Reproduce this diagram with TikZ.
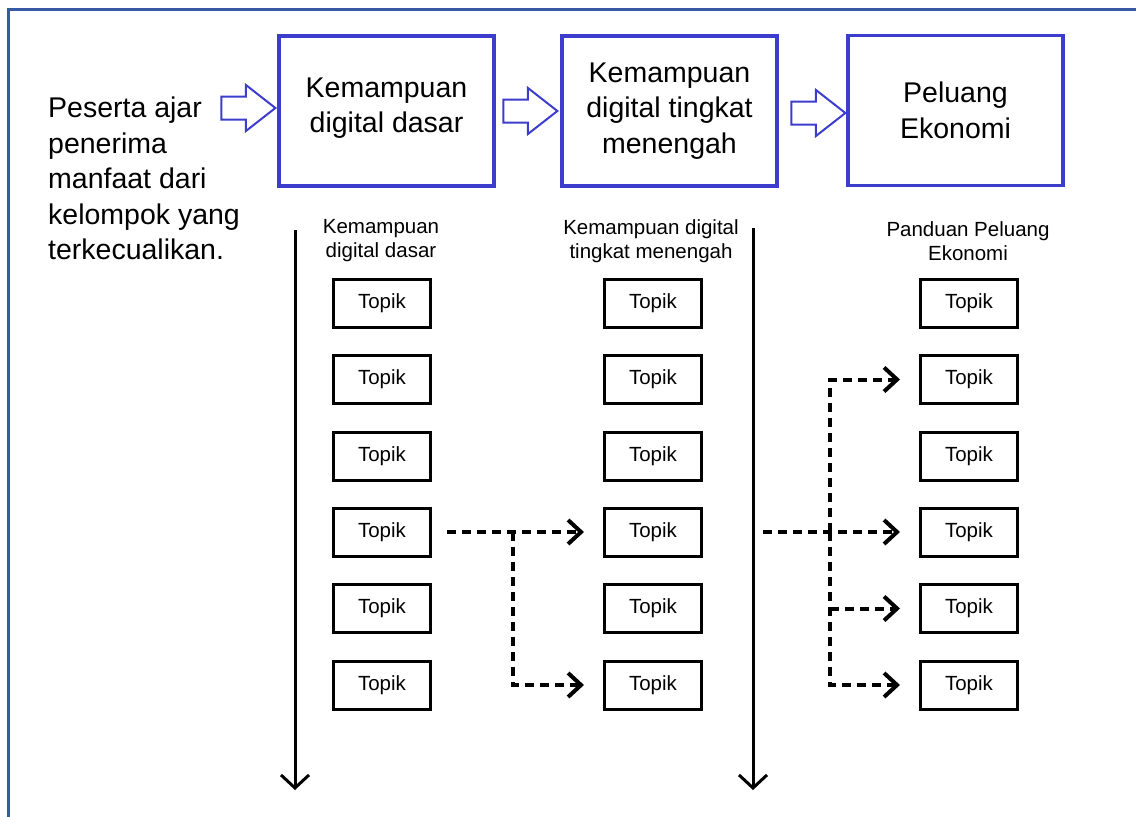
\documentclass[tikz,border=0pt]{standalone}
\usepackage{fontspec}
\setmainfont{Liberation Sans}
\usetikzlibrary{arrows.meta,positioning,calc,shapes.arrows}
\definecolor{frameblue}{RGB}{55,90,165}
\definecolor{stageblue}{RGB}{60,60,205}
\newcommand{\bigtxt}{\fontsize{28.5}{35.5}\selectfont}
\newcommand{\smalltxt}{\fontsize{20.5}{24}\selectfont}

\begin{document}
\begin{tikzpicture}[x=1pt,y=-1pt,
  stage/.style={draw=stageblue,line width=3.5pt,minimum width=215pt,minimum height=150pt,align=center,font=\bigtxt,inner sep=0pt},
  flow/.style={single arrow,draw=stageblue,line width=2pt,fill=white,minimum height=54pt,inner xsep=0pt,inner ysep=10.5pt,single arrow head extend=11.5pt,single arrow tip angle=76,anchor=tip},
  topik/.style={draw,line width=3pt,minimum width=97pt,minimum height=48pt,font=\smalltxt,inner sep=0pt},
  head/.style={align=center,font=\smalltxt,inner sep=0pt},
  link/.style={line width=4pt,dash pattern=on 9pt off 6pt,-{Straight Barb[length=13pt,width=24pt]},shorten >=19pt}]
\useasboundingbox (0,0) rectangle (1136,817);
\draw[frameblue,line width=3pt] (8,817) -- (8,9) -- (1136,9);
% learners and the three stages
\node[anchor=north west,align=left,font=\bigtxt,inner sep=0pt] (learner) at (48,97) {Peserta ajar\\penerima\\manfaat dari\\kelompok yang\\terkecualikan.};
\node[stage,text depth=12pt] (basic) at (386.5,111) {Kemampuan\\digital dasar};
\node[stage] (mid) at (669.5,111) {Kemampuan\\digital tingkat\\menengah};
\node[stage] (econ) at (955.5,110.5) {Peluang\\Ekonomi};
\node[flow] (f1) at (277,108) {};
\node[flow] (f2) at (559,111) {};
\node[flow] (f3) at (847,113) {};
% column headings
\node[head] (h1) at (381,241) {Kemampuan\\digital dasar};
\node[head] (h2) at (651,241) {Kemampuan digital\\tingkat menengah};
\node[head] (h3) at (968,241) {Panduan Peluang\\Ekonomi};
% topics
\node[topik] (a1) at (382,303) {Topik}; \node[topik] (b1) at (653,303) {Topik}; \node[topik] (c1) at (969,303) {Topik};
\node[topik] (a2) at (382,379.5) {Topik}; \node[topik] (b2) at (653,379.5) {Topik}; \node[topik] (c2) at (969,379.5) {Topik};
\node[topik] (a3) at (382,456) {Topik}; \node[topik] (b3) at (653,456) {Topik}; \node[topik] (c3) at (969,456) {Topik};
\node[topik] (a4) at (382,532) {Topik}; \node[topik] (b4) at (653,532) {Topik}; \node[topik] (c4) at (969,532) {Topik};
\node[topik] (a5) at (382,608.5) {Topik}; \node[topik] (b5) at (653,608.5) {Topik}; \node[topik] (c5) at (969,608.5) {Topik};
\node[topik] (a6) at (382,685) {Topik}; \node[topik] (b6) at (653,685) {Topik}; \node[topik] (c6) at (969,685) {Topik};
% time lines
\coordinate (v1s) at (295,230); \coordinate (v1e) at (295,790);
\coordinate (v2s) at (753,228); \coordinate (v2e) at (753,790);
\draw[line width=3pt,-{Straight Barb[length=13pt,width=28pt]}] (v1s) -- (v1e);
\draw[line width=3pt,-{Straight Barb[length=13pt,width=28pt]}] (v2s) -- (v2e);
% dashed links
\coordinate (j1) at (a4.east -| 513,0);
\draw[link,shorten <=15pt] (a4.east) -- (b4.west);
\draw[link] (j1) |- (b6.west);
\coordinate (s2) at (c4.west -| 763,0);
\coordinate (j2) at (c4.west -| 830,0);
\draw[link] (s2) -- (c4.west);
\draw[link] (j2) |- (c2.west);
\draw[link] (j2) |- (c6.west);
\draw[link] (c5.west -| j2) -- (c5.west);
\end{tikzpicture}
\end{document}
